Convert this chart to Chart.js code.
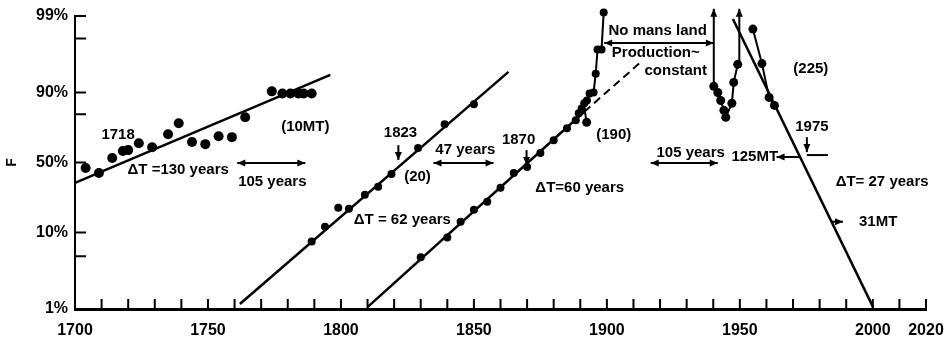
<!DOCTYPE html>
<html lang="en">
<head>
<meta charset="UTF-8">
<title>F</title>
<style>
  html, body { margin: 0; padding: 0; background: #fff; }
  canvas { display: block; }
</style>
</head>
<body>
<canvas id="myChart" width="948" height="343"></canvas>
<script src="https://cdn.jsdelivr.net/npm/chart.js"></script>
<script>
// values: year and F in percent
const phase1Years = [1704, 1709, 1714, 1718, 1720, 1724, 1729, 1735, 1739, 1744, 1749, 1754, 1759, 1764, 1774, 1778, 1781, 1784, 1786, 1789];
const phase1F = [45.7, 41.9, 53.5, 58.9, 59.6, 64.7, 61.8, 70.8, 77.4, 65.5, 64.0, 69.5, 68.9, 80.5, 90.3, 89.7, 89.7, 89.7, 89.7, 89.7];
const phase1FitYears = [1700, 1796];
const phase1FitF = [34.5, 94.0];

const phase2Years = [1789, 1794, 1799, 1803, 1809, 1814, 1819, 1829, 1839, 1850];
const phase2F = [7.75, 11.8, 19.5, 19.0, 26.7, 31.8, 41.1, 61.1, 76.8, 86.1];
const phase2FitYears = [1762, 1863];
const phase2FitF = [1.17, 94.5];

const phase3Years = [1830, 1840, 1845, 1850, 1855, 1860, 1865, 1870, 1875, 1880, 1885];
const phase3F = [4.86, 8.69, 13.5, 18.5, 22.6, 31.1, 41.9, 46.5, 57.3, 66.8, 74.6];
const phase3TopYears = [1888.3, 1889.4, 1890.5, 1891.5, 1892.5, 1893.5, 1895, 1895.8, 1896.5, 1898, 1898.8];
const phase3TopF = [79.0, 82.4, 84.5, 86.5, 87.5, 89.7, 90.0, 94.2, 97.2, 97.2, 99.1];
const phase3SpurYears = [1891.5, 1892.4];
const phase3SpurF = [84.8, 77.9];
const phase3FitYears = [1810, 1891.5];
const phase3FitF = [1.06, 83.1];
const phase3DashYears = [1891.5, 1913.5];
const phase3DashF = [83.1, 96.1];

const warYears = [1940.2, 1941.7, 1942.8, 1944.0, 1944.7, 1947.0, 1947.7, 1949.2];
const warF = [91.6, 90.0, 87.5, 83.7, 80.5, 86.5, 92.5, 95.6];

const declineYears = [1954.9, 1958.3, 1961, 1963];
const declineF = [98.5, 95.7, 88.5, 85.7];
const declineFitYears = [1947.4, 2000.1];
const declineFitF = [98.9, 1.06];

const xTickLabels = [1700, 1750, 1800, 1850, 1900, 1950, 2000, 2020];
const yTickValues = [1, 5, 10, 50, 82, 90, 98, 99];
const yTickLabels = ['1%', '', '10%', '50%', '', '90%', '', '99%'];

function logit(pct) {
  const p = pct / 100;
  return Math.log(p / (1 - p));
}
function pts(years, F) {
  return years.map((yr, i) => ({ x: yr, y: logit(F[i]) }));
}

// annotations: [year1, F1, year2, F2, head at start, head at end]
const arrows = [
  [1761, 49.6, 1786.6, 49.6, true, true],
  [1821.6, 63.3, 1821.6, 51.9, false, true],
  [1834.8, 49.6, 1857.4, 49.6, true, true],
  [1869.8, 59.6, 1869.8, 48.1, false, true],
  [1916.5, 49.6, 1941.7, 49.6, true, true],
  [1899, 97.7, 1940.2, 97.7, true, true],
  [1940.2, 91.6, 1940.2, 99.2, false, true],
  [1949.8, 95.6, 1949.8, 99.2, false, true],
  [1973.0, 54.3, 1963.8, 54.3, false, true],
  [1975.2, 68.9, 1975.2, 58.1, false, true],
  [1975.2, 55.8, 1983.1, 55.8, false, false],
  [1984.3, 13.5, 1988.8, 13.5, false, true]
];
const labels = [
  ['1718', 1716.2, 70.2],
  ['\u0394T =130 years', 1738.8, 44.2],
  ['105 years', 1774.2, 35.3],
  ['(10MT)', 1786.6, 75.1],
  ['1823', 1822.4, 71.5],
  ['47 years', 1846.8, 59.6],
  ['(20)', 1828.8, 38.9],
  ['\u0394T = 62 years', 1823.1, 14.3],
  ['1870', 1866.8, 66.8],
  ['\u0394T=60 years', 1889.8, 31.1],
  ['(190)', 1902.6, 70.2],
  ['No mans land', 1919.1, 98.4],
  ['Production~', 1918.4, 96.9],
  ['constant', 1925.9, 94.7],
  ['105 years', 1931.5, 57.3],
  ['125MT', 1955.6, 54.3],
  ['1975', 1977.1, 75.1],
  ['(225)', 1976.7, 95.0],
  ['\u0394T= 27 years', 2003.5, 35.3],
  ['31MT', 2002.0, 13.5]
];

function drawArrow(ctx, x1, y1, x2, y2, headStart, headEnd) {
  ctx.beginPath();
  ctx.moveTo(x1, y1);
  ctx.lineTo(x2, y2);
  ctx.stroke();
  const head = (xa, ya, xb, yb) => {
    const a = Math.atan2(yb - ya, xb - xa);
    ctx.beginPath();
    ctx.moveTo(xb, yb);
    ctx.lineTo(xb - 8 * Math.cos(a) + 3.5 * Math.sin(a), yb - 8 * Math.sin(a) - 3.5 * Math.cos(a));
    ctx.lineTo(xb - 8 * Math.cos(a) - 3.5 * Math.sin(a), yb - 8 * Math.sin(a) + 3.5 * Math.cos(a));
    ctx.closePath();
    ctx.fill();
  };
  if (headEnd) head(x1, y1, x2, y2);
  if (headStart) head(x2, y2, x1, y1);
}

const notes = {
  id: 'notes',
  afterDraw(chart) {
    const { ctx, chartArea, scales: { x, y } } = chart;
    const px = v => x.getPixelForValue(v);
    const py = f => y.getPixelForValue(logit(f));
    ctx.save();
    ctx.strokeStyle = '#000';
    ctx.fillStyle = '#000';

    // tick marks point into the plot
    ctx.lineWidth = 2;
    ctx.beginPath();
    x.ticks.forEach(t => {
      const xp = x.getPixelForValue(t.value);
      ctx.moveTo(xp, chartArea.bottom);
      ctx.lineTo(xp, chartArea.bottom - 10);
    });
    y.ticks.forEach(t => {
      const yp = y.getPixelForValue(t.value);
      ctx.moveTo(chartArea.left, yp);
      ctx.lineTo(chartArea.left + 11, yp);
    });
    ctx.stroke();

    ctx.lineWidth = 2;
    arrows.forEach(a => drawArrow(ctx, px(a[0]), py(a[1]), px(a[2]), py(a[3]), a[4], a[5]));

    ctx.font = 'bold 15px "Liberation Sans", Arial, sans-serif';
    ctx.textAlign = 'center';
    ctx.textBaseline = 'middle';
    labels.forEach(l => ctx.fillText(l[0], px(l[1]), py(l[2])));
    ctx.restore();
  }
};

const line = (data, opts) => Object.assign({
  data, showLine: true, borderColor: '#000', borderWidth: 2.5,
  pointRadius: 0, clip: false
}, opts);
const dots = (data, r) => ({
  data, showLine: false, pointRadius: r, pointBackgroundColor: '#000',
  pointBorderWidth: 0, clip: false
});

const ctx = document.getElementById('myChart');
new Chart(ctx, {
  type: 'scatter',
  data: {
    datasets: [
      line(pts(phase1FitYears, phase1FitF)),
      dots(pts(phase1Years, phase1F), 5),
      line(pts(phase2FitYears, phase2FitF)),
      dots(pts(phase2Years, phase2F), 4),
      line(pts(phase3FitYears, phase3FitF)),
      line(pts(phase3DashYears, phase3DashF), { borderDash: [8, 5], borderWidth: 2 }),
      dots(pts(phase3Years, phase3F), 4),
      line(pts(phase3TopYears, phase3TopF), { borderWidth: 2, pointRadius: 4, pointBackgroundColor: '#000', pointBorderWidth: 0 }),
      line(pts(phase3SpurYears, phase3SpurF), { borderWidth: 2 }),
      dots([{ x: phase3SpurYears[1], y: logit(phase3SpurF[1]) }], 4.5),
      line(pts(warYears, warF), { borderWidth: 2, pointRadius: 4.5, pointBackgroundColor: '#000', pointBorderWidth: 0 }),
      line(pts(declineFitYears, declineFitF)),
      line(pts(declineYears, declineF), { borderWidth: 2, pointRadius: 4.5, pointBackgroundColor: '#000', pointBorderWidth: 0 })
    ]
  },
  options: {
    responsive: false,
    animation: false,
    layout: { padding: { top: 16, right: 22, left: 0, bottom: 0 } },
    plugins: { legend: { display: false }, tooltip: { enabled: false } },
    scales: {
      x: {
        type: 'linear',
        min: 1700,
        max: 2020,
        afterBuildTicks: scale => {
          const t = [];
          for (let v = 1700; v <= 2020; v += 10) t.push({ value: v });
          scale.ticks = t;
        },
        afterFit: scale => {
          scale.height = 34;
          scale.paddingLeft = 0;
          scale.paddingRight = 0;
        },
        grid: { display: false, drawTicks: false },
        border: { color: '#000', width: 3 },
        ticks: {
          autoSkip: false,
          maxRotation: 0,
          padding: 12,
          color: '#000',
          font: { family: '"Liberation Sans", Arial, sans-serif', size: 16, weight: 'bold' },
          callback: v => xTickLabels.includes(v) ? String(v) : ''
        }
      },
      y: {
        type: 'linear',
        min: logit(1),
        max: logit(99),
        afterBuildTicks: scale => {
          scale.ticks = yTickValues.map(v => ({ value: logit(v) }));
        },
        afterFit: scale => {
          scale.width = 75;
          scale.paddingTop = 0;
          scale.paddingBottom = 0;
        },
        grid: { display: false, drawTicks: false },
        border: { color: '#000', width: 2 },
        title: {
          display: true,
          text: 'F',
          color: '#000',
          font: { family: '"Liberation Sans", Arial, sans-serif', size: 14, weight: 'bold' }
        },
        ticks: {
          autoSkip: false,
          padding: 7,
          color: '#000',
          font: { family: '"Liberation Sans", Arial, sans-serif', size: 16, weight: 'bold' },
          callback: (v, i) => yTickLabels[i]
        }
      }
    }
  },
  plugins: [notes]
});
</script>
</body>
</html>
